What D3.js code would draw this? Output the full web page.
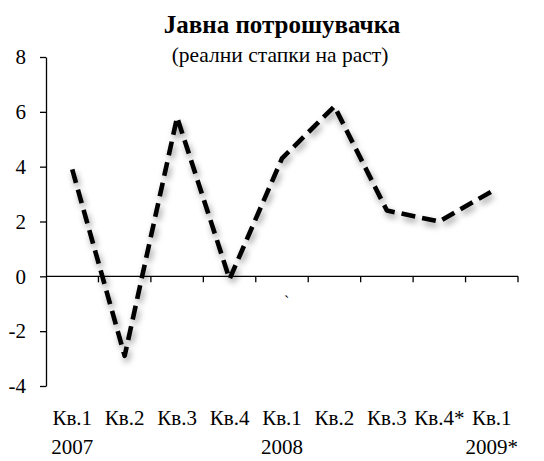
<!DOCTYPE html>
<html><head><meta charset="utf-8">
<script src="https://cdn.jsdelivr.net/npm/d3@7"></script>
<style>body{margin:0;background:#fff}svg{display:block}</style>
</head><body><svg id="c" width="544" height="461" font-family="Liberation Serif"></svg>
<script>
const quarters = ["Кв.1","Кв.2","Кв.3","Кв.4","Кв.1","Кв.2","Кв.3","Кв.4*","Кв.1"];
const years = ["2007","","","","2008","","","","2009*"];
const values = [3.9,-2.9,5.8,-0.1,4.3,6.2,2.4,2.0,3.1];
const yTicks = [-4,-2,0,2,4,6,8];
const title = "Јавна потрошувачка";
const subtitle = "(реални стапки на раст)";

const FONT = "Liberation Serif";
const svg = d3.select("#c");
const mLeft = 46, mRight = 518, mTop = 57, mBottom = 386;
const x = d3.scaleBand().domain(d3.range(quarters.length)).range([mLeft, mRight]);
const y = d3.scaleLinear().domain([-4, 8]).range([mBottom, mTop]);

const defs = svg.append("defs");
const f = defs.append("filter").attr("id","sh").attr("x","-20%").attr("y","-20%").attr("width","140%").attr("height","140%");
f.append("feDropShadow").attr("dx",2).attr("dy",4).attr("stdDeviation",3).attr("flood-color","#000").attr("flood-opacity",0.4);

svg.append("text").attr("x",282).attr("y",33).attr("text-anchor","middle").attr("font-family",FONT)
  .attr("font-weight","bold").attr("font-size",25).text(title);
svg.append("text").attr("x",280).attr("y",62).attr("text-anchor","middle").attr("font-family",FONT)
  .attr("font-size",21.5).text(subtitle);

// y axis
const ya = svg.append("g").attr("transform",`translate(${mLeft},0)`)
  .call(d3.axisLeft(y).tickValues(yTicks).tickSize(6).tickSizeOuter(0).tickPadding(14).tickFormat(d => String(d)));
ya.attr("font-family",FONT);
ya.select(".domain").attr("stroke","#000").attr("stroke-width",1.3);
ya.selectAll(".tick line").attr("stroke","#000").attr("stroke-width",1.3);
ya.selectAll(".tick text").attr("font-size",21).attr("font-family",FONT).attr("fill","#000");

// x axis at zero
const xa = svg.append("g").attr("transform",`translate(0,${y(0)})`);
xa.append("line").attr("x1",mLeft).attr("x2",mRight).attr("stroke","#000").attr("stroke-width",1.3);
const bounds = d3.range(1, quarters.length+1).map(i => i < quarters.length ? x(i) : x(quarters.length-1)+x.bandwidth());
xa.selectAll("line.t").data(bounds).join("line").attr("class","t")
  .attr("x1",d=>d).attr("x2",d=>d).attr("y1",0).attr("y2",6).attr("stroke","#000").attr("stroke-width",1.3);

// x labels
svg.append("g").selectAll("text").data(quarters).join("text")
  .attr("x",(d,i)=>x(i)+x.bandwidth()/2).attr("y",425).attr("text-anchor","middle")
  .attr("font-family",FONT).attr("font-size",21).text(d=>d);
svg.append("g").selectAll("text").data(years).join("text")
  .attr("x",(d,i)=>x(i)+x.bandwidth()/2).attr("y",454).attr("text-anchor","middle")
  .attr("font-family",FONT).attr("font-size",21).text(d=>d);

svg.append("text").attr("x",284).attr("y",307).attr("font-family",FONT).attr("font-size",16).text("`");

const line = d3.line().x((d,i)=>x(i)+x.bandwidth()/2).y(d=>y(d));
svg.append("path").datum(values).attr("d",line).attr("fill","none")
  .attr("stroke","#000").attr("stroke-width",4.6).attr("stroke-dasharray","14,7")
  .attr("stroke-linejoin","round").attr("filter","url(#sh)");
</script></body></html>
